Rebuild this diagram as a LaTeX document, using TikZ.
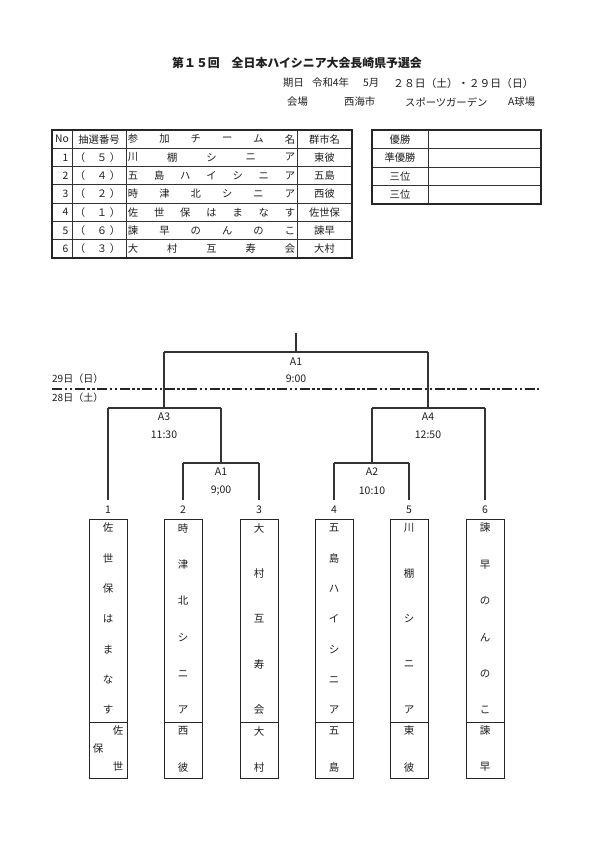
\documentclass[tikz,border=0pt]{standalone}
\usepackage{fontspec}
\setmainfont{Noto Sans CJK JP}
\newcommand\spreadtext[7]{%
  \edef\sptlist{#7}%
  \foreach \c [count=\i from 0] in \sptlist {
    \node[txt] (#1-\i) at ({#2+(#4-#2)*\i/(#6-1)}, {#3+(#5-#3)*\i/(#6-1)}) {\c};
  }}
\tikzset{
  txt/.style={inner sep=0, text=black!88},
  tblfont/.style={font=\fontsize{10.3bp}{12bp}\selectfont},
  hdfont/.style={font=\fontsize{10.3bp}{12bp}\selectfont},
  brk/.style={line width=1.3bp, draw=black!80},
  thinl/.style={line width=0.8bp, draw=black!80},
  thickl/.style={line width=1.3bp, draw=black!85},
  lbl/.style={txt, font=\fontsize{10.5bp}{12bp}\selectfont},
  num/.style={txt, font=\fontsize{10.5bp}{12bp}\selectfont, anchor=base, text height=7.5bp, text depth=0pt, inner ysep=5.5bp},
  teambox/.style={draw=black!85, line width=1bp, minimum width=38bp, minimum height=259bp, inner sep=0},
  tchar/.style={txt, font=\fontsize{10.5bp}{12bp}\selectfont},
}
\begin{document}
\begin{tikzpicture}[x=1bp,y=-1bp]
\useasboundingbox (0,0) rectangle (595,842);
\fill[white] (0,0) rectangle (595,842);

% header
\node[txt, anchor=west, font=\bfseries\fontsize{11.9bp}{13bp}\selectfont] (title) at (172,63) {第１５回　全日本ハイシニア大会長崎県予選会};
\begin{scope}[hdfont]
\node[txt, anchor=west] (date1) at (283,83) {期日};
\node[txt, anchor=west] (date2) at (312,83) {令和4年};
\node[txt, anchor=west] (date3) at (363,83) {5月};
\node[txt, anchor=west, font=\fontsize{10.8bp}{12bp}\selectfont] (date4) at (393,83) {２８日（土）・２９日（日）};
\node[txt, anchor=west] (place1) at (287,102) {会場};
\node[txt, anchor=west] (place2) at (344,102) {西海市};
\node[txt, anchor=west] (place3) at (405,102) {スポーツガーデン};
\node[txt, anchor=west] (place4) at (508,102) {A球場};
\end{scope}

% table 1
\foreach \k in {1,...,6} \draw[thinl] (52,{130+\k*128/7}) -- (352,{130+\k*128/7});
\foreach \xx in {72,126,297} \draw[thinl] (\xx,130) -- (\xx,258);
\draw[thickl] (52,130) rectangle (352,258);
\begin{scope}[tblfont]
\node[txt] (hno) at (62,139.1) {No};
\node[txt] (hdraw) at (99,139.1) {抽選番号};
\spreadtext{hteam}{133}{139.1}{290}{139.1}{6}{参,加,チ,ー,ム,名}
\node[txt] (hcity) at (324.5,139.1) {群市名};
\foreach \no/\dr/\n/\tm/\ct [count=\r] in {
  1/５/5/{川,棚,シ,ニ,ア}/東彼,
  2/４/7/{五,島,ハ,イ,シ,ニ,ア}/五島,
  3/２/6/{時,津,北,シ,ニ,ア}/西彼,
  4/１/7/{佐,世,保,は,ま,な,す}/佐世保,
  5/６/6/{諫,早,の,ん,の,こ}/諫早,
  6/３/5/{大,村,互,寿,会}/大村}{
  \pgfmathsetmacro\yy{139.1+\r*128/7}
  \node[txt, anchor=east] (no\r) at (68.5,\yy) {\no};
  \node[txt] (dro\r) at (80,\yy) {（};
  \node[txt] (dr\r) at (102,\yy) {\dr};
  \node[txt] (drc\r) at (115,\yy) {）};
  \spreadtext{tm\r}{133}{\yy}{290}{\yy}{\n}{\tm}
  \node[txt] (ct\r) at (324.5,\yy) {\ct};
}
\end{scope}

% table 2
\foreach \yy in {148.5,167,185.5} \draw[thinl] (372,\yy) -- (541,\yy);
\draw[thinl] (428,130) -- (428,204);
\draw[thickl] (372,130) rectangle (541,204);
\begin{scope}[tblfont]
\node[txt] (p1) at (400,139.2) {優勝};
\node[txt] (p2) at (400,157.7) {準優勝};
\node[txt] (p3) at (400,176.2) {三位};
\node[txt] (p4) at (400,194.7) {三位};
\end{scope}

% day separator
\draw[line width=2.2bp, draw=black!85, dash pattern=on 10bp off 2.5bp on 2.5bp off 2.5bp on 2.5bp off 2.5bp] (52,389) -- (539,389);
\node[txt, anchor=west, font=\fontsize{10bp}{12bp}\selectfont] (d29) at (52,379) {29日（日）};
\node[txt, anchor=west, font=\fontsize{10bp}{12bp}\selectfont] (d28) at (52,397.5) {28日（土）};

% entry numbers and team boxes
\foreach \i/\xx in {1/108,2/183,3/259,4/334,5/409,6/485}{
  \node[num] (n\i) at (\xx,513) {\i};
  \node[teambox] (t\i) at (\xx,648.5) {};
  \draw[draw=black!85, line width=1bp] (t\i.west |- 0,722) -- (t\i.east |- 0,722);
}
\begin{scope}[font=\fontsize{10.5bp}{12bp}\selectfont]
\spreadtext{u1}{108}{528}{108}{710}{7}{佐,世,保,は,ま,な,す}
\spreadtext{u2}{183}{528}{183}{710}{6}{時,津,北,シ,ニ,ア}
\spreadtext{u3}{259}{528}{259}{710}{5}{大,村,互,寿,会}
\spreadtext{u4}{334}{528}{334}{710}{7}{五,島,ハ,イ,シ,ニ,ア}
\spreadtext{u5}{409}{528}{409}{710}{5}{川,棚,シ,ニ,ア}
\spreadtext{u6}{485}{528}{485}{710}{6}{諫,早,の,ん,の,こ}
\end{scope}
\node[tchar] (l1a) at (118,731) {佐};
\node[tchar] (l1b) at (98,749) {保};
\node[tchar] (l1c) at (118,767) {世};
\node[tchar] (l2a) at (183,731) {西};
\node[tchar] (l2b) at (183,767) {彼};
\node[tchar] (l3a) at (259,731) {大};
\node[tchar] (l3b) at (259,767) {村};
\node[tchar] (l4a) at (334,731) {五};
\node[tchar] (l4b) at (334,767) {島};
\node[tchar] (l5a) at (409,731) {東};
\node[tchar] (l5b) at (409,767) {彼};
\node[tchar] (l6a) at (485,731) {諫};
\node[tchar] (l6b) at (485,767) {早};

% bracket
\coordinate (top) at (296,333);
\coordinate (fL) at (164,352);
\coordinate (fR) at (428,352);
\coordinate (s3L) at (108,408);
\coordinate (s3R) at (221,408);
\coordinate (s4L) at (372,408);
\coordinate (s4R) at (485,408);
\coordinate (q1L) at (183,463);
\coordinate (q1R) at (259,463);
\coordinate (q2L) at (334,463);
\coordinate (q2R) at (409,463);
\draw[brk] (top) -- (top |- fL);
\draw[brk] (fL) -- (fR);
\draw[brk] (fL) -- (fL |- s3L);
\draw[brk] (fR) -- (fR |- s4L);
\draw[brk] (s3L) -- (s3R);
\draw[brk] (s4L) -- (s4R);
\draw[brk] (s3L) -- (n1.north);
\draw[brk] (s3R) -- (s3R |- q1L);
\draw[brk] (q1L) -- (q1R);
\draw[brk] (q1L) -- (n2.north);
\draw[brk] (q1R) -- (n3.north);
\draw[brk] (s4L) -- (s4L |- q2L);
\draw[brk] (q2L) -- (q2R);
\draw[brk] (q2L) -- (n4.north);
\draw[brk] (q2R) -- (n5.north);
\draw[brk] (s4R) -- (n6.north);

% match labels
\node[lbl] (m1) at (296,362) {A1};
\node[lbl] (m1t) at (296,379) {9:00};
\node[lbl] (m3) at (164,417) {A3};
\node[lbl] (m3t) at (164,435) {11:30};
\node[lbl] (m4) at (428,417) {A4};
\node[lbl] (m4t) at (428,435) {12:50};
\node[lbl] (m5) at (221,472) {A1};
\node[lbl] (m5t) at (221,491) {9;00};
\node[lbl] (m6) at (372,472) {A2};
\node[lbl] (m6t) at (372,491) {10:10};
\end{tikzpicture}
\end{document}
